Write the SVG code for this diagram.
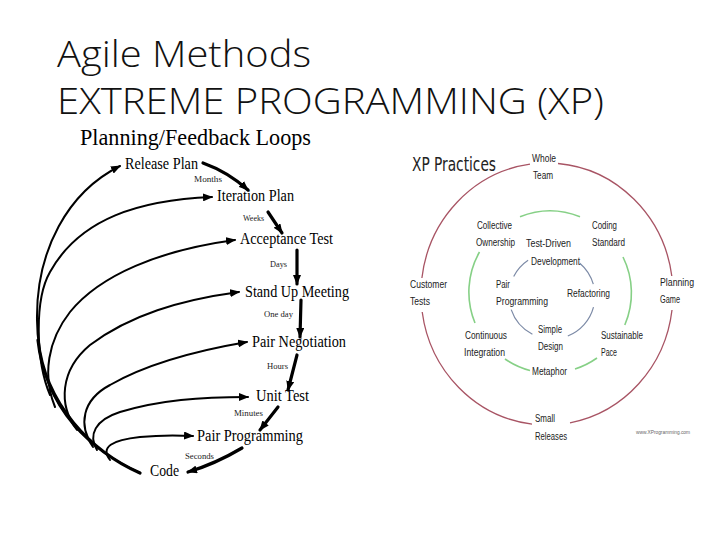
<svg xmlns="http://www.w3.org/2000/svg" width="720" height="540" viewBox="0 0 720 540">
<style>
.title{font-family:"Open Sans","Liberation Sans",sans-serif;font-weight:300;font-size:36px;fill:#111}
.serif{font-family:"Liberation Serif",serif;fill:#000}
.node{font-size:16px}
.lab{font-size:8px;fill:#222}
.loop{fill:none;stroke:#000;stroke-width:2;stroke-linecap:round}
.step{fill:none;stroke:#000;stroke-width:3.2;stroke-linecap:round}
.xp{font-family:"Liberation Sans",sans-serif;font-size:10px;fill:#222}
.outer{fill:none;stroke:#a85464;stroke-width:1.3}
.mid{fill:none;stroke:#86d086;stroke-width:1.6}
.inner{fill:none;stroke:#7c8aa6;stroke-width:1.2}
</style>
<defs>
<marker id="ah" markerWidth="10" markerHeight="8" refX="9" refY="4" orient="auto" markerUnits="userSpaceOnUse">
<path d="M0,0 L10,4 L0,8 Z" fill="#000"/>
</marker>
</defs>
<rect width="720" height="540" fill="#fff"/>

<g id="title">
<text class="title" x="57" y="67" textLength="254" lengthAdjust="spacingAndGlyphs">Agile Methods</text>
<text class="title" x="57" y="114" textLength="547" lengthAdjust="spacingAndGlyphs">EXTREME PROGRAMMING (XP)</text>
</g>

<g id="loops-heading">
<text class="serif" x="80" y="145" font-size="23" textLength="231" lengthAdjust="spacingAndGlyphs">Planning/Feedback Loops</text>
</g>

<g id="connectors">
<path class="step" d="M38,340 C45,405 92,452 140,473"/>
<path class="loop" stroke-width="3" d="M140,473 C80,445 38,400 37,320 C36,250 68,192 120,166" marker-end="url(#ah)"/>
<path class="loop" d="M50,395 C36,362 34,300 50,272 C80,218 140,200 212,197" marker-end="url(#ah)"/>
<path class="loop" d="M55,407 C42,375 48,340 70,312 C100,275 160,250 235,240" marker-end="url(#ah)"/>
<path class="loop" d="M77,430 C58,405 60,370 90,345 C130,315 180,300 239,292" marker-end="url(#ah)"/>
<path class="loop" d="M93,447 C78,425 82,400 110,385 C150,362 200,350 247,342" marker-end="url(#ah)"/>
<path class="loop" d="M97,450 C88,435 95,420 120,412 C160,400 200,397 248,397" marker-end="url(#ah)"/>
<path class="loop" d="M110,460 C100,447 112,440 140,437 C160,435 175,435 193,436" marker-end="url(#ah)"/>
<path class="step" d="M203,163 Q228,172 248,190" marker-end="url(#ah)"/>
<path class="step" d="M268,212 L282,233" marker-end="url(#ah)"/>
<path class="step" d="M297,250 L297,284" marker-end="url(#ah)"/>
<path class="step" d="M301,300 L300,337" marker-end="url(#ah)"/>
<path class="step" d="M297,355 L288,390" marker-end="url(#ah)"/>
<path class="step" d="M278,407 L260,430" marker-end="url(#ah)"/>
<path class="step" d="M242,448 Q215,464 188,472" marker-end="url(#ah)"/>
</g>

<g id="release-plan"><text class="serif node" x="125" y="169" textLength="73" lengthAdjust="spacingAndGlyphs">Release Plan</text></g>
<g id="lab-months"><text class="serif lab" x="194" y="182" textLength="28" lengthAdjust="spacingAndGlyphs">Months</text></g>
<g id="iteration-plan"><text class="serif node" x="217" y="201" textLength="77" lengthAdjust="spacingAndGlyphs">Iteration Plan</text></g>
<g id="lab-weeks"><text class="serif lab" x="243" y="221" textLength="21" lengthAdjust="spacingAndGlyphs">Weeks</text></g>
<g id="acceptance-test"><text class="serif node" x="240" y="244" textLength="93" lengthAdjust="spacingAndGlyphs">Acceptance Test</text></g>
<g id="lab-days"><text class="serif lab" x="270" y="267" textLength="17" lengthAdjust="spacingAndGlyphs">Days</text></g>
<g id="stand-up"><text class="serif node" x="245" y="297" textLength="104" lengthAdjust="spacingAndGlyphs">Stand Up Meeting</text></g>
<g id="lab-oneday"><text class="serif lab" x="264" y="317" textLength="29" lengthAdjust="spacingAndGlyphs">One day</text></g>
<g id="pair-negotiation"><text class="serif node" x="252" y="347" textLength="94" lengthAdjust="spacingAndGlyphs">Pair Negotiation</text></g>
<g id="lab-hours"><text class="serif lab" x="267" y="369" textLength="21" lengthAdjust="spacingAndGlyphs">Hours</text></g>
<g id="unit-test"><text class="serif node" x="256" y="401" textLength="53" lengthAdjust="spacingAndGlyphs">Unit Test</text></g>
<g id="lab-minutes"><text class="serif lab" x="234" y="416" textLength="29" lengthAdjust="spacingAndGlyphs">Minutes</text></g>
<g id="pair-programming"><text class="serif node" x="197" y="441" textLength="106" lengthAdjust="spacingAndGlyphs">Pair Programming</text></g>
<g id="lab-seconds"><text class="serif lab" x="185" y="459" textLength="29" lengthAdjust="spacingAndGlyphs">Seconds</text></g>
<g id="code"><text class="serif node" x="150" y="476" textLength="29" lengthAdjust="spacingAndGlyphs">Code</text></g>

<g id="xp-practices">
<text x="412" y="171" font-family="'DejaVu Sans Condensed','Liberation Sans',sans-serif" font-size="19" fill="#222" textLength="84" lengthAdjust="spacingAndGlyphs">XP Practices</text>
<path class="outer" d="M530,164.2 A126,131 0 0 0 421.9,278"/>
<path class="outer" d="M558,163.5 A126,131 0 0 1 671.8,276"/>
<path class="outer" d="M422.2,312 A126,131 0 0 0 532,424.1"/>
<path class="outer" d="M570,422.8 A126,131 0 0 0 672,310"/>
<path class="mid" d="M520,216.7 A81,81 0 0 1 580,216.7"/>
<path class="mid" d="M479.5,252 A81,81 0 0 0 475,323"/>
<path class="mid" d="M623,257 A81,81 0 0 1 624.8,325"/>
<path class="mid" d="M505,359 A81,81 0 0 0 530,370.5"/>
<path class="mid" d="M575,369 A81,81 0 0 0 597,358"/>
<path class="inner" d="M528.1,260.2 A43,43 0 0 0 513.7,276.4"/>
<path class="inner" d="M579.8,263.2 A43,43 0 0 1 593.3,284.2"/>
<path class="inner" d="M511.2,309.6 A43,43 0 0 0 532.4,334.2"/>
<path class="inner" d="M567.8,336 A43,43 0 0 0 593.5,307.1"/>
</g>

<g id="whole-team"><text class="xp" x="532" y="162" textLength="24" lengthAdjust="spacingAndGlyphs">Whole</text><text class="xp" x="533" y="179" textLength="20" lengthAdjust="spacingAndGlyphs">Team</text></g>
<g id="collective-ownership"><text class="xp" x="477" y="229" textLength="35" lengthAdjust="spacingAndGlyphs">Collective</text><text class="xp" x="476" y="246" textLength="39" lengthAdjust="spacingAndGlyphs">Ownership</text></g>
<g id="coding-standard"><text class="xp" x="592" y="229" textLength="25" lengthAdjust="spacingAndGlyphs">Coding</text><text class="xp" x="592" y="246" textLength="33" lengthAdjust="spacingAndGlyphs">Standard</text></g>
<g id="tdd"><text class="xp" x="526" y="247" textLength="45" lengthAdjust="spacingAndGlyphs">Test-Driven</text><text class="xp" x="531" y="265" textLength="49" lengthAdjust="spacingAndGlyphs">Development</text></g>
<g id="customer-tests"><text class="xp" x="410" y="288" textLength="37" lengthAdjust="spacingAndGlyphs">Customer</text><text class="xp" x="410" y="305" textLength="20" lengthAdjust="spacingAndGlyphs">Tests</text></g>
<g id="planning-game"><text class="xp" x="660" y="286" textLength="34" lengthAdjust="spacingAndGlyphs">Planning</text><text class="xp" x="660" y="303" textLength="20" lengthAdjust="spacingAndGlyphs">Game</text></g>
<g id="xp-pair-programming"><text class="xp" x="496" y="288" textLength="14" lengthAdjust="spacingAndGlyphs">Pair</text><text class="xp" x="496" y="305" textLength="52" lengthAdjust="spacingAndGlyphs">Programming</text></g>
<g id="refactoring"><text class="xp" x="567" y="297" textLength="43" lengthAdjust="spacingAndGlyphs">Refactoring</text></g>
<g id="simple-design"><text class="xp" x="538" y="333" textLength="24" lengthAdjust="spacingAndGlyphs">Simple</text><text class="xp" x="538" y="350" textLength="25" lengthAdjust="spacingAndGlyphs">Design</text></g>
<g id="continuous-integration"><text class="xp" x="465" y="339" textLength="42" lengthAdjust="spacingAndGlyphs">Continuous</text><text class="xp" x="464" y="356" textLength="41" lengthAdjust="spacingAndGlyphs">Integration</text></g>
<g id="sustainable-pace"><text class="xp" x="601" y="339" textLength="42" lengthAdjust="spacingAndGlyphs">Sustainable</text><text class="xp" x="601" y="356" textLength="16" lengthAdjust="spacingAndGlyphs">Pace</text></g>
<g id="metaphor"><text class="xp" x="532" y="375" textLength="35" lengthAdjust="spacingAndGlyphs">Metaphor</text></g>
<g id="small-releases"><text class="xp" x="535" y="422" textLength="20" lengthAdjust="spacingAndGlyphs">Small</text><text class="xp" x="535" y="440" textLength="32" lengthAdjust="spacingAndGlyphs">Releases</text></g>
<g id="credit"><text x="636" y="434" font-family="'Liberation Sans',sans-serif" font-size="5" fill="#666" textLength="54" lengthAdjust="spacingAndGlyphs">www.XProgramming.com</text></g>
</svg>
